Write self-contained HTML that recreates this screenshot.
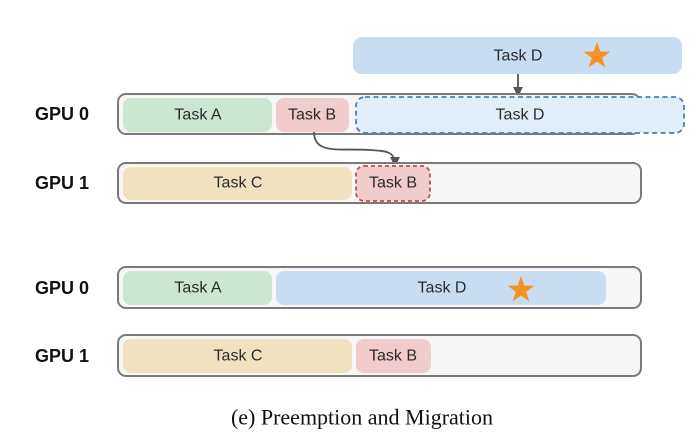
<!DOCTYPE html>
<html><head><meta charset="utf-8"><style>
html,body{margin:0;padding:0;background:#fff;}
svg{display:block;}
.t{font-family:"Liberation Sans",sans-serif;font-size:16px;fill:#2a2a2a;text-anchor:middle;dominant-baseline:central;}
.g{font-family:"Liberation Sans",sans-serif;font-size:18px;font-weight:bold;fill:#111;dominant-baseline:central;}
</style></head><body>
<svg width="689" height="434" viewBox="0 0 689 434" xmlns="http://www.w3.org/2000/svg">
<defs>
<marker id="ah" markerWidth="12" markerHeight="12" refX="8" refY="6" orient="auto" markerUnits="userSpaceOnUse">
<path d="M0,1 L10,6 L0,11 z" fill="#555"/></marker>
<path id="star" d="M0,-14 L3.3,-4.5 L13.3,-4.3 L5.3,1.7 L8.2,11.3 L0,5.6 L-8.2,11.3 L-5.3,1.7 L-13.3,-4.3 L-3.3,-4.5 z" fill="#f39324"/>
</defs>
<rect x="353" y="37" width="329" height="37" rx="9" fill="#c8ddf2"/>
<text class="t" x="518" y="56">Task D</text>
<use href="#star" x="597" y="56"/>
<line x1="518" y1="74" x2="518" y2="95" stroke="#555" stroke-width="1.8" marker-end="url(#ah)"/>

<text class="g" x="35" y="114">GPU 0</text>
<rect x="118" y="94" width="522" height="40" rx="8" fill="#f7f7f7" stroke="#7a7a7a" stroke-width="2"/>
<rect x="123" y="98" width="149" height="34" rx="8" fill="#cde6d2"/>
<text class="t" x="198" y="115">Task A</text>
<rect x="276" y="98" width="73" height="34" rx="8" fill="#f0cccc"/>
<text class="t" x="312" y="115">Task B</text>
<rect x="356" y="97" width="328" height="36" rx="9" fill="#e1edf9" stroke="#4b7fb0" stroke-width="1.8" stroke-dasharray="5,3.5"/>
<text class="t" x="520" y="115">Task D</text>

<path d="M314,132 C314,155 340,148 370,150 C388,151 395,152 395,165" fill="none" stroke="#555" stroke-width="1.8" marker-end="url(#ah)"/>

<text class="g" x="35" y="183">GPU 1</text>
<rect x="118" y="163" width="523" height="40" rx="8" fill="#f7f7f7" stroke="#7a7a7a" stroke-width="2"/>
<rect x="123" y="167" width="229" height="33" rx="8" fill="#f0e2bf"/>
<text class="t" x="238" y="183">Task C</text>
<rect x="356" y="166" width="74" height="35" rx="8" fill="#f0cccc" stroke="#b05353" stroke-width="1.8" stroke-dasharray="4,3"/>
<text class="t" x="393" y="183">Task B</text>

<text class="g" x="35" y="288">GPU 0</text>
<rect x="118" y="267" width="523" height="41" rx="8" fill="#f7f7f7" stroke="#7a7a7a" stroke-width="2"/>
<rect x="123" y="271" width="149" height="34" rx="8" fill="#cde6d2"/>
<text class="t" x="198" y="288">Task A</text>
<rect x="276" y="271" width="330" height="34" rx="8" fill="#c8ddf2"/>
<text class="t" x="442" y="288">Task D</text>
<use href="#star" x="521" y="290"/>

<text class="g" x="35" y="356">GPU 1</text>
<rect x="118" y="335" width="523" height="41" rx="8" fill="#f7f7f7" stroke="#7a7a7a" stroke-width="2"/>
<rect x="123" y="339" width="229" height="34" rx="8" fill="#f0e2bf"/>
<text class="t" x="238" y="356">Task C</text>
<rect x="356" y="339" width="75" height="34" rx="8" fill="#f0cccc"/>
<text class="t" x="393" y="356">Task B</text>

<text x="362" y="417" style="font-family:'Liberation Serif',serif;font-size:22px;fill:#111;text-anchor:middle;dominant-baseline:central;">(e) Preemption and Migration</text>
</svg>
</body></html>
